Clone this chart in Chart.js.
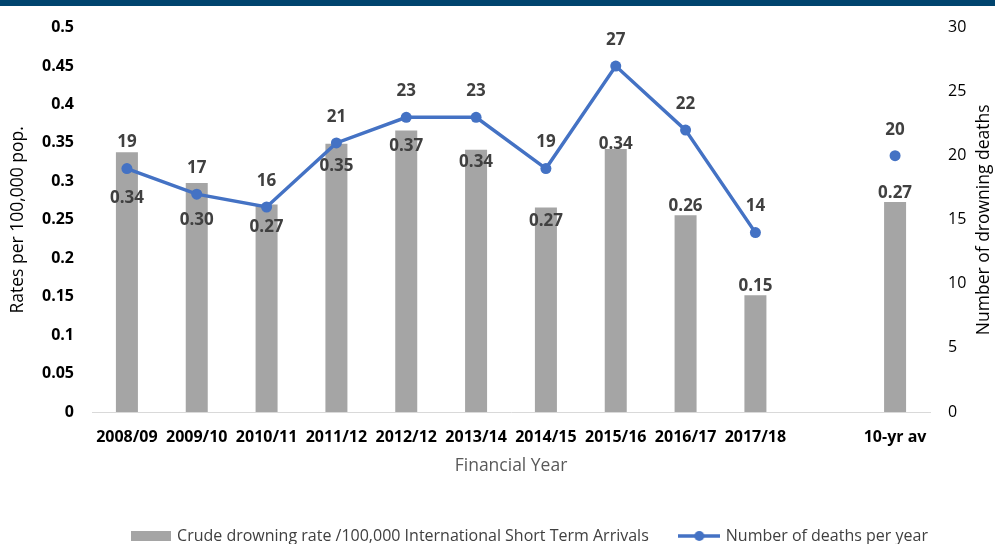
<!DOCTYPE html>
<html><head><meta charset="utf-8">
<script src="https://cdn.jsdelivr.net/npm/chart.js@4.4.0/dist/chart.umd.min.js"></script>
<style>
html,body{margin:0;padding:0;background:#fff;overflow:hidden}
#wrap{position:relative;width:995px;height:544px}
#band{position:absolute;left:0;top:0;width:995px;height:6px;background:#00446E}
canvas{display:block}
</style></head><body>
<div id="wrap"><canvas id="c" width="995" height="544"></canvas><div id="band"></div></div>
<script>
// ---- data ----
const categories = ['2008/09','2009/10','2010/11','2011/12','2012/12','2013/14','2014/15','2015/16','2016/17','2017/18','','10-yr av'];
const rates = [0.338,0.298,0.270,0.349,0.366,0.341,0.266,0.342,0.256,0.152,null,0.273];
const deaths = [19,17,16,21,23,23,19,27,22,14,null,20];
const rateLabel = 'Crude drowning rate /100,000 International Short Term Arrivals';
const deathLabel = 'Number of deaths per year';
const leftTitle = 'Rates per 100,000 pop.';
const rightTitle = 'Number of drowning deaths';
const xTitle = 'Financial Year';
const rateRange = [0, 0.5, 0.05];
const deathRange = [0, 30, 5];

// ---- styles ----
const BAR = '#A5A5A5', LINE = '#4472C4', LBL = '#404040';
const FONT = "'Open Sans', sans-serif";
const barLabelShift = [46,37,23,22,16,12,14,-5,-9,-9,0,-9];
const lineLabelShift = -26;

function boxIcon(){const c=document.createElement('canvas');c.width=40;c.height=10;const g=c.getContext('2d');g.fillStyle=BAR;g.fillRect(0,0,40,10);return c;}
function lineIcon(){const c=document.createElement('canvas');c.width=42;c.height=12;const g=c.getContext('2d');g.strokeStyle=LINE;g.lineWidth=3.5;g.beginPath();g.moveTo(0,6);g.lineTo(42,6);g.stroke();g.fillStyle=LINE;g.beginPath();g.arc(21,6,5,0,Math.PI*2);g.fill();return c;}
const icons=[boxIcon(),lineIcon()];

const dataLabels = {
  id:'dataLabels',
  afterDatasetsDraw(chart){
    const ctx=chart.ctx; ctx.save();
    ctx.font="bold 17px "+FONT; ctx.fillStyle=LBL; ctx.textAlign='center'; ctx.textBaseline='middle';
    chart.getDatasetMeta(0).data.forEach((el,i)=>{ if(rates[i]==null) return; ctx.fillText(rates[i].toFixed(2), el.x, el.y+barLabelShift[i]); });
    chart.getDatasetMeta(1).data.forEach((el,i)=>{ if(deaths[i]==null) return; ctx.fillText(String(deaths[i]), el.x, el.y+lineLabelShift); });
    ctx.restore();
  }
};
const rightAxisTitle = {
  id:'rightAxisTitle',
  afterDraw(chart){
    const s=chart.scales.y1, ctx=chart.ctx; ctx.save();
    ctx.translate(984,(s.top+s.bottom)/2); ctx.rotate(-Math.PI/2);
    ctx.font="17.5px "+FONT; ctx.fillStyle='#000'; ctx.textAlign='center'; ctx.textBaseline='middle';
    ctx.fillText(rightTitle,0,0); ctx.restore();
  }
};
const legendPlace = {
  id:'legendPlace',
  afterLayout(chart){
    const lg=chart.legend; const pad=lg.options.labels.padding; const h=lg.height;
    const top=536-pad-8; lg.top=top; lg.bottom=top+h;
    lg.left+=32.5; lg.right+=32.5;
  }
};

new Chart(document.getElementById('c'),{
  data:{
    labels:categories,
    datasets:[
      {type:'bar',label:rateLabel,data:rates,yAxisID:'y',backgroundColor:BAR,barPercentage:0.315,categoryPercentage:1,order:2},
      {type:'line',label:deathLabel,data:deaths,yAxisID:'y1',borderColor:LINE,backgroundColor:LINE,borderWidth:3.5,pointRadius:5.5,pointHoverRadius:5.5,pointBackgroundColor:LINE,pointBorderWidth:0,spanGaps:false,tension:0,order:1}
    ]
  },
  options:{
    responsive:false,animation:false,
    layout:{padding:{top:25,left:0,right:0,bottom:0}},
    plugins:{
      tooltip:{enabled:false},
      legend:{position:'bottom',labels:{usePointStyle:true,pointStyleWidth:37,boxHeight:12,padding:32,color:LBL,font:{family:FONT,size:16},
        sort:(a,b)=>a.datasetIndex-b.datasetIndex,
        generateLabels(chart){const items=Chart.defaults.plugins.legend.labels.generateLabels(chart);items.forEach(it=>{it.pointStyle=icons[it.datasetIndex];});return items;}}}
    },
    scales:{
      x:{grid:{display:false,drawTicks:false,tickLength:0},border:{display:true,color:'#D9D9D9',width:1},
        ticks:{color:'#000',font:{family:FONT,size:16,weight:'bold'},padding:16,maxRotation:0,autoSkip:false},
        title:{display:true,text:xTitle,color:'#595959',font:{family:FONT,size:17.5},padding:{top:0,bottom:9.5}},
        afterFit(s){s.height=544-412-s.chart.legend.height;}},
      y:{position:'left',min:rateRange[0],max:rateRange[1],grid:{display:false,drawTicks:false},border:{display:false},
        ticks:{stepSize:rateRange[2],color:'#000',font:{family:FONT,size:16,weight:'bold'},padding:18,callback:v=>String(Number(v.toFixed(2)))},
        title:{display:true,text:leftTitle,color:'#000',font:{family:FONT,size:17.5},padding:{top:7.5,bottom:0}},
        afterFit(s){s.width=92;}},
      y1:{position:'right',min:deathRange[0],max:deathRange[1],grid:{display:false,drawTicks:false},border:{display:false},
        ticks:{stepSize:deathRange[2],color:'#000',font:{family:FONT,size:16},padding:18},
        afterFit(s){s.width=65;}}
    }
  },
  plugins:[dataLabels,rightAxisTitle,legendPlace]
});
</script>
</body></html>
